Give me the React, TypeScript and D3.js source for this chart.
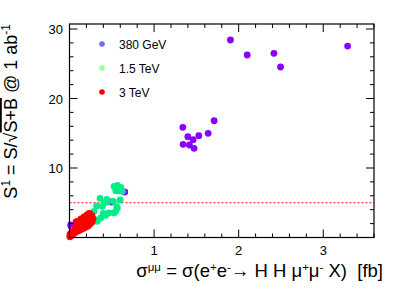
import { scaleLinear, range } from "d3";

// [sigma (fb), significance]
const gev380: [number, number][] = [
  [1.903, 28.42], [2.101, 26.26], [2.417, 26.5], [2.495, 24.53], [3.288, 27.55],
  [1.34, 15.86], [1.71, 16.8], [1.399, 14.5], [1.529, 14.65], [1.462, 14.07],
  [1.639, 14.99], [1.343, 13.41], [1.418, 13.31], [1.473, 12.83],
  [0.653, 6.55], [0.495, 5.11], [0.021, 1.61], [0.014, 1.8],
];

const tev15: [number, number][] = [
  [0.527, 7.37], [0.566, 7.51], [0.606, 7.22], [0.547, 6.73], [0.586, 6.73], [0.625, 6.65],
  [0.518, 5.21], [0.447, 5.11], [0.408, 4.96], [0.388, 4.49], [0.361, 5.64], [0.44, 5.5],
  [0.32, 4.53], [0.566, 4.24], [0.547, 3.77], [0.527, 3.53], [0.467, 3.53], [0.428, 3.19],
  [0.4, 3.48], [0.369, 2.81], [0.329, 2.33], [0.32, 2.52], [0.29, 3.77], [0.251, 3.28],
  [0.183, 2.52], [0.092, 1.84], [0.053, 1.12], [0.558, 4.43], [0.598, 5.4],
];

const tev3: [number, number][] = [
  [0.005, 0.1], [0.006, 0.22], [0.03, 0.36], [0.053, 0.58], [0.077, 0.79], [0.101, 0.94],
  [0.124, 1.08], [0.148, 1.22], [0.172, 1.37], [0.195, 1.51], [0.219, 1.65], [0.243, 1.94],
  [0.266, 2.23], [0.278, 2.66], [0.266, 3.09], [0.243, 3.38], [0.207, 3.24], [0.172, 2.95],
  [0.136, 2.66], [0.101, 2.37], [0.077, 2.23], [0.124, 1.94], [0.172, 2.23], [0.219, 2.52],
  [0.195, 1.94], [0.148, 1.65], [0.03, 0.79], [0.006, 0.5], [0.065, 1.37], [0.112, 1.65],
  [0.254, 2.81], [0.231, 3.45],
];

const legendLabels = ["380 GeV", "1.5 TeV", "3 TeV"];
const legendColors = ["#6b6bff", "#99ff99", "#ff0000"];
const pointColors = ["#8a00ff", "#00ee88", "#ff0000"];
const xTicks = [1, 2, 3];
const yTicks = [10, 20, 30];
const threshold = 5;

export default function App() {
  const W = 407, H = 289;
  const m = { left: 69.5, right: 374, top: 24, bottom: 237.5 };

  const x = scaleLinear().domain([0, 3.6]).range([m.left, m.right]);
  const y = scaleLinear().domain([0, 30.72]).range([m.bottom, m.top]);

  const font = "Liberation Sans, Arial, sans-serif";
  const xMinor = range(0, 3.61, 0.2);
  const yMinor = range(0, 30.7, 2);

  const series = [gev380, tev15, tev3];
  const sup = -6.5;

  return (
    <svg width={W} height={H} style={{ position: "absolute", left: 0, top: 0 }} fontFamily={font}>
      <rect width={W} height={H} fill="#fff" />

      {/* dotted threshold */}
      <line x1={m.left} x2={m.right} y1={y(threshold)} y2={y(threshold)}
        stroke="#ff0000" strokeWidth={1.2} strokeDasharray="2,2" />

      {series.map((s, i) => (
        <g key={i} fill={pointColors[i]}>
          {s.map((d, j) => (
            <circle key={j} cx={x(d[0])} cy={y(d[1])} r={3.4} />
          ))}
        </g>
      ))}

      {/* frame */}
      <rect x={m.left} y={m.top} width={m.right - m.left} height={m.bottom - m.top}
        fill="none" stroke="#000" strokeWidth={1.2} />

      {/* ticks */}
      <g stroke="#000" strokeWidth={1}>
        {xMinor.map((t, i) => {
          const major = Math.abs(t - Math.round(t)) < 1e-6;
          const len = major ? 8 : 4;
          return (
            <g key={i}>
              <line x1={x(t)} x2={x(t)} y1={m.bottom} y2={m.bottom - len} />
              <line x1={x(t)} x2={x(t)} y1={m.top} y2={m.top + len} />
            </g>
          );
        })}
        {yMinor.map((t, i) => {
          const major = t % 10 === 0;
          const len = major ? 8 : 4;
          return (
            <g key={i}>
              <line x1={m.left} x2={m.left + len} y1={y(t)} y2={y(t)} />
              <line x1={m.right} x2={m.right - len} y1={y(t)} y2={y(t)} />
            </g>
          );
        })}
      </g>

      {/* tick labels */}
      <g fontSize={13} fill="#000">
        {xTicks.map((t) => (
          <text key={t} x={x(t)} y={255} textAnchor="middle">{t}</text>
        ))}
        {yTicks.map((t) => (
          <text key={t} x={63} y={y(t) + 5} textAnchor="end">{t}</text>
        ))}
      </g>

      {/* legend */}
      {legendLabels.map((l, i) => (
        <g key={l} transform={`translate(102,${44 + i * 24})`}>
          <circle r={2.8} fill={legendColors[i]} />
          <text x={17} y={4.5} fontSize={12}>{l}</text>
        </g>
      ))}

      {/* x title */}
      <text x={383} y={277} textAnchor="end" fontSize={18.5} xmlSpace="preserve">
        σ<tspan dy={sup} fontSize={11.5}>μμ</tspan>
        <tspan dy={-sup}> = σ(e</tspan>
        <tspan dy={sup} fontSize={11.5}>+</tspan>
        <tspan dy={-sup}>e</tspan>
        <tspan dy={sup} fontSize={11.5}>-</tspan>
        <tspan dy={-sup}>→ H H μ</tspan>
        <tspan dy={sup} fontSize={11.5}>+</tspan>
        <tspan dy={-sup}>μ</tspan>
        <tspan dy={sup} fontSize={11.5}>-</tspan>
        <tspan dy={-sup}>{" X)  [fb]"}</tspan>
      </text>

      {/* y title */}
      <text transform={`translate(17,${m.top}) rotate(-90)`} textAnchor="end" fontSize={18} xmlSpace="preserve">
        S<tspan dy={-7} fontSize={12}>1</tspan>
        <tspan dy={7}> = S/√</tspan>
        <tspan textDecoration="overline" style={{ textDecoration: "overline" }}>S+B</tspan>
        <tspan> @ 1 ab</tspan>
        <tspan dy={-7} fontSize={12}>-1</tspan>
      </text>
    </svg>
  );
}
